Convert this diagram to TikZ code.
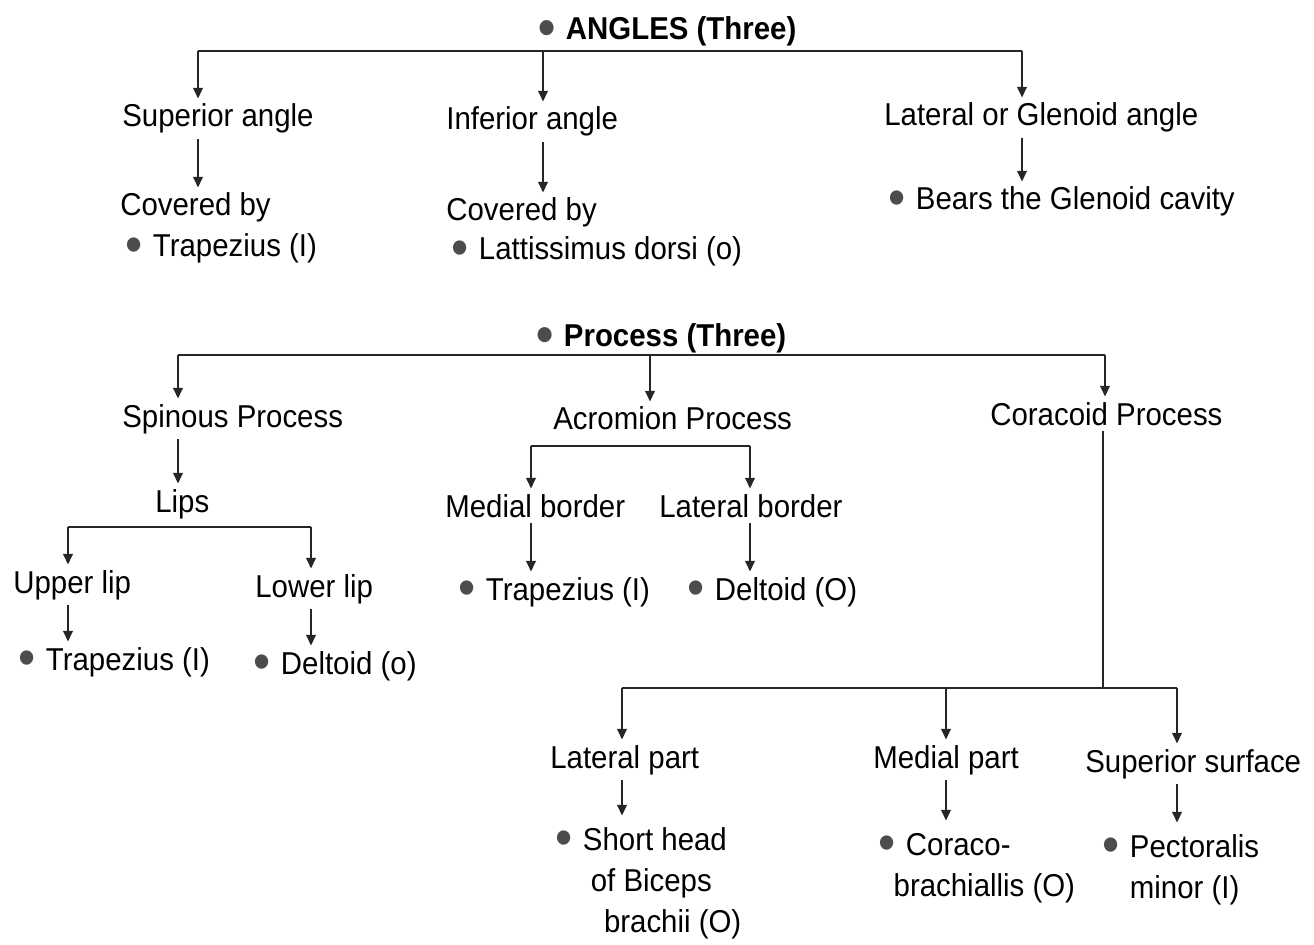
\documentclass[tikz,border=0pt]{standalone}
\usepackage{fontspec}
\setmainfont{Liberation Sans}[FakeStretch=0.93]
\usetikzlibrary{arrows.meta}

\newcommand{\dotb}{\textcolor{black!70}{\raisebox{-3.2pt}{\fontsize{30}{0}\selectfont\textbullet}}\hspace{0.33em}}

\tikzset{
  lbl/.style={anchor=base west, inner xsep=0pt, inner ysep=3pt, font=\fontsize{18}{23.5}\selectfont},
  ttl/.style={lbl, font=\fontsize{18}{23.5}\selectfont\bfseries},
  arr/.style={-{Triangle[length=6pt,width=5.5pt]}, line width=0.9pt, draw=black!85},
  bar/.style={line width=0.9pt, draw=black!85}
}

\begin{document}
\begin{tikzpicture}[x=0.02cm, y=-0.02cm]
	\useasboundingbox (0,0) rectangle (1314,945);

	% angles
	\node[ttl] (angles) at (538,40) {\dotb ANGLES (Three)};
	\node[lbl] (sup) at (122,127) {Superior angle};
	\node[lbl] (inf) at (446,130) {Inferior angle};
	\node[lbl] (lat) at (884,126) {Lateral or Glenoid angle};
	\node[lbl] (cov1) at (120,216) {Covered by};
	\node[lbl] (cov2) at (446,221) {Covered by};
	\node[lbl] (trap1) at (125,257) {\dotb Trapezius (I)};
	\node[lbl] (latd) at (451,260) {\dotb Lattissimus dorsi (o)};
	\node[lbl] (bears) at (888,210) {\dotb Bears the Glenoid cavity};

	\coordinate (a1) at (198,51);
	\coordinate (a2) at (543,51);
	\coordinate (a3) at (1022,51);
	\draw[bar] (a1) -- (a3);
	\draw[arr] (a1) -- (a1 |- sup.north);
	\draw[arr] (a2) -- (a2 |- inf.north);
	\draw[arr] (a3) -- (a3 |- lat.north);
	\draw[arr] (a1 |- sup.south) -- (a1 |- cov1.north);
	\draw[arr] (a2 |- inf.south) -- (a2 |- cov2.north);
	\draw[arr] (a3 |- lat.south) -- (a3 |- bears.north);

	% process
	\node[ttl] (proc) at (536,347) {\dotb Process (Three)};
	\node[lbl] (spin) at (122,427) {Spinous Process};
	\node[lbl] (acro) at (553,430) {Acromion Process};
	\node[lbl] (cora) at (990,425) {Coracoid Process};
	\node[lbl] (lips) at (155,512) {Lips};
	\node[lbl] (medb) at (445,517) {Medial border};
	\node[lbl] (latb) at (659,517) {Lateral border};
	\node[lbl] (upl) at (13,593) {Upper lip};
	\node[lbl] (lowl) at (255,597) {Lower lip};
	\node[lbl] (trap2) at (18,670) {\dotb Trapezius (I)};
	\node[lbl] (delt1) at (253,674) {\dotb Deltoid (o)};
	\node[lbl] (trap3) at (458,600) {\dotb Trapezius (I)};
	\node[lbl] (delt2) at (687,600) {\dotb Deltoid (O)};
	\node[lbl] (latp) at (550,768) {Lateral part};
	\node[lbl] (medp) at (873,768) {Medial part};
	\node[lbl] (supsf) at (1085,772) {Superior surface};
	\node[lbl] (bic) at (555,850) {\dotb\begin{tabular}[t]{@{}l@{}}Short head\\\hspace*{4.5pt}of Biceps\\\hspace*{12pt}brachii (O)\end{tabular}};
	\node[lbl] (corb) at (878,855) {\dotb\begin{tabular}[t]{@{}l@{}}Coraco-\\\hspace*{-7pt}brachiallis (O)\end{tabular}};
	\node[lbl] (pect) at (1102,857) {\dotb\begin{tabular}[t]{@{}l@{}}Pectoralis\\minor (I)\end{tabular}};

	\coordinate (p1) at (178,355);
	\coordinate (p2) at (650,355);
	\coordinate (p3) at (1105,355);
	\draw[bar] (p1) -- (p3);
	\draw[arr] (p1) -- (p1 |- spin.north);
	\draw[arr] (p2) -- (p2 |- acro.north);
	\draw[arr] (p3) -- (p3 |- cora.north);
	\draw[arr] (p1 |- spin.south) -- (p1 |- lips.north);

	% lips
	\coordinate (l1) at (68,527);
	\coordinate (l2) at (311,527);
	\draw[bar] (l1) -- (l2);
	\draw[arr] (l1) -- (l1 |- upl.north);
	\draw[arr] (l2) -- (l2 |- lowl.north);
	\draw[arr] (l1 |- upl.south) -- (l1 |- trap2.north);
	\draw[arr] (l2 |- lowl.south) -- (l2 |- delt1.north);

	% borders
	\coordinate (m1) at (531,446);
	\coordinate (m2) at (750,446);
	\draw[bar] (m1) -- (m2);
	\draw[arr] (m1) -- (m1 |- medb.north);
	\draw[arr] (m2) -- (m2 |- latb.north);
	\draw[arr] (m1 |- medb.south) -- (m1 |- trap3.north);
	\draw[arr] (m2 |- latb.south) -- (m2 |- delt2.north);

	% coracoid
	\coordinate (c0) at (1103,688);
	\coordinate (c1) at (622,688);
	\coordinate (c2) at (946,688);
	\coordinate (c3) at (1177,688);
	\draw[bar] (c0 |- cora.south) -- (c0);
	\draw[bar] (c1) -- (c3);
	\draw[arr] (c1) -- (c1 |- latp.north);
	\draw[arr] (c2) -- (c2 |- medp.north);
	\draw[arr] (c3) -- (c3 |- supsf.north);
	\draw[arr] (c1 |- latp.south) -- (c1 |- bic.north);
	\draw[arr] (c2 |- medp.south) -- (c2 |- corb.north);
	\draw[arr] (c3 |- supsf.south) -- (c3 |- pect.north);
\end{tikzpicture}
\end{document}
